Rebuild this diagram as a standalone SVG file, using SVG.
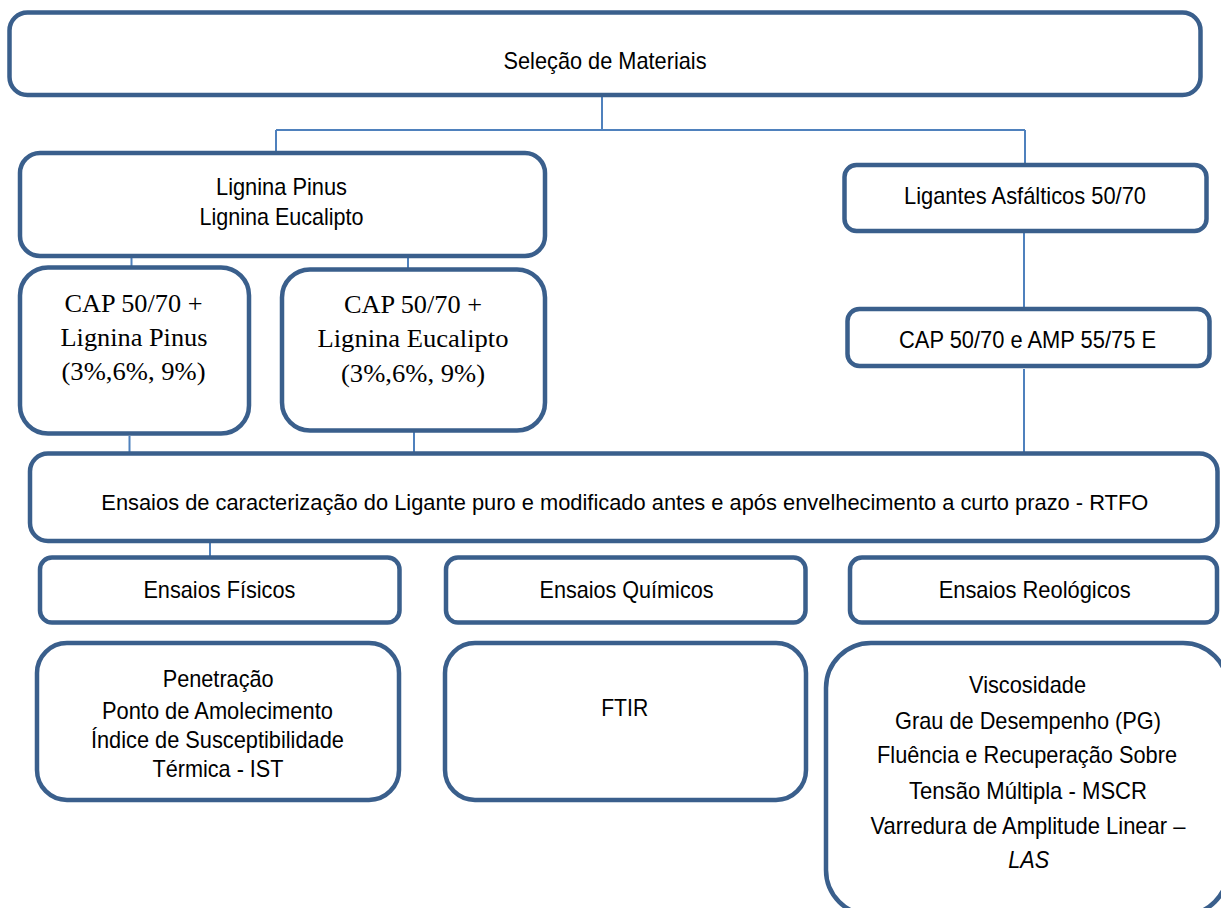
<svg xmlns="http://www.w3.org/2000/svg" width="1221" height="908" viewBox="0 0 1221 908">
  <style>
    .box { fill: #ffffff; stroke: #3a5f8c; stroke-width: 4.5; }
    .link { fill: none; stroke: #4f81bd; stroke-width: 2; }
    .sans { font-family: "Liberation Sans", Arial, sans-serif; font-size: 24px; fill: #000000; text-anchor: middle; }
    .serif { font-family: "Liberation Serif", "Times New Roman", serif; font-size: 25px; fill: #000000; text-anchor: middle; }
    .it { font-style: italic; }
    .long { font-size: 22px; }
  </style>
  <rect width="1221" height="908" fill="#ffffff"/>

  <!-- connectors -->
  <g id="connectors">
    <path class="link" d="M602 97 V130 M276 130 H1025 M276 130 V151 M1025 130 V163"/>
    <path class="link" d="M1024 233 V307"/>
    <path class="link" d="M1024 369 V452"/>
    <path class="link" d="M131.5 256 V266 M408 256 V268"/>
    <path class="link" d="M129.5 436 V452 M414 432 V452"/>
    <path class="link" d="M210 541 V556"/>
  </g>

  <g id="selecao-materiais">
    <rect class="box" x="9.5" y="12.5" width="1191" height="82.5" rx="18"/>
    <text class="sans" x="605" y="69" textLength="203" lengthAdjust="spacingAndGlyphs">Seleção de Materiais</text>
  </g>

  <g id="lignina">
    <rect class="box" x="20" y="153" width="525" height="103" rx="20"/>
    <text class="sans" x="281.5" y="195" textLength="131" lengthAdjust="spacingAndGlyphs">Lignina Pinus</text>
    <text class="sans" x="281.5" y="225" textLength="164" lengthAdjust="spacingAndGlyphs">Lignina Eucalipto</text>
  </g>

  <g id="ligantes-asfalticos">
    <rect class="box" x="844.5" y="165" width="362" height="66" rx="12"/>
    <text class="sans" x="1025" y="204" textLength="242" lengthAdjust="spacingAndGlyphs">Ligantes Asfálticos 50/70</text>
  </g>

  <g id="cap-amp">
    <rect class="box" x="847.5" y="309" width="362" height="57" rx="12"/>
    <text class="sans" x="1027.5" y="348" textLength="257" lengthAdjust="spacingAndGlyphs">CAP 50/70 e AMP 55/75 E</text>
  </g>

  <g id="cap-lignina-pinus">
    <rect class="box" x="20" y="267.5" width="229" height="166" rx="28"/>
    <text class="serif" x="133.5" y="312" textLength="138" lengthAdjust="spacingAndGlyphs">CAP 50/70 +</text>
    <text class="serif" x="134" y="346" textLength="147" lengthAdjust="spacingAndGlyphs">Lignina Pinus</text>
    <text class="serif" x="133.5" y="380" textLength="144" lengthAdjust="spacingAndGlyphs">(3%,6%, 9%)</text>
  </g>

  <g id="cap-lignina-eucalipto">
    <rect class="box" x="282" y="269.5" width="263" height="161" rx="28"/>
    <text class="serif" x="413" y="313" textLength="138" lengthAdjust="spacingAndGlyphs">CAP 50/70 +</text>
    <text class="serif" x="413" y="347" textLength="191" lengthAdjust="spacingAndGlyphs">Lignina Eucalipto</text>
    <text class="serif" x="413" y="382" textLength="144" lengthAdjust="spacingAndGlyphs">(3%,6%, 9%)</text>
  </g>

  <g id="ensaios-caracterizacao">
    <rect class="box" x="30" y="453.5" width="1187.5" height="87.5" rx="18"/>
    <text class="sans long" x="624.8" y="510" textLength="1047" lengthAdjust="spacingAndGlyphs">Ensaios de caracterização do Ligante puro e modificado antes e após envelhecimento a curto prazo - RTFO</text>
  </g>

  <g id="ensaios-fisicos">
    <rect class="box" x="40" y="557.5" width="359.5" height="65" rx="12"/>
    <text class="sans" x="219.4" y="598" textLength="152" lengthAdjust="spacingAndGlyphs">Ensaios Físicos</text>
  </g>

  <g id="ensaios-quimicos">
    <rect class="box" x="446" y="557.5" width="359.5" height="65" rx="12"/>
    <text class="sans" x="626.5" y="598" textLength="174" lengthAdjust="spacingAndGlyphs">Ensaios Químicos</text>
  </g>

  <g id="ensaios-reologicos">
    <rect class="box" x="850" y="557.5" width="367" height="65" rx="12"/>
    <text class="sans" x="1034.7" y="598" textLength="192" lengthAdjust="spacingAndGlyphs">Ensaios Reológicos</text>
  </g>

  <g id="fisicos-lista">
    <rect class="box" x="37" y="643" width="362" height="157" rx="30"/>
    <text class="sans" x="218.2" y="687" textLength="111" lengthAdjust="spacingAndGlyphs">Penetração</text>
    <text class="sans" x="217.4" y="719" textLength="231" lengthAdjust="spacingAndGlyphs">Ponto de Amolecimento</text>
    <text class="sans" x="217.4" y="748" textLength="253" lengthAdjust="spacingAndGlyphs">Índice de Susceptibilidade</text>
    <text class="sans" x="218" y="777" textLength="131" lengthAdjust="spacingAndGlyphs">Térmica - IST</text>
  </g>

  <g id="quimicos-lista">
    <rect class="box" x="445" y="643" width="361" height="157" rx="30"/>
    <text class="sans" x="624.7" y="716" textLength="47" lengthAdjust="spacingAndGlyphs">FTIR</text>
  </g>

  <g id="reologicos-lista">
    <rect class="box" x="826" y="643" width="402" height="272" rx="45"/>
    <text class="sans" x="1027.5" y="693" textLength="117" lengthAdjust="spacingAndGlyphs">Viscosidade</text>
    <text class="sans" x="1028" y="729" textLength="266" lengthAdjust="spacingAndGlyphs">Grau de Desempenho (PG)</text>
    <text class="sans" x="1027" y="763" textLength="300" lengthAdjust="spacingAndGlyphs">Fluência e Recuperação Sobre</text>
    <text class="sans" x="1028" y="799" textLength="238" lengthAdjust="spacingAndGlyphs">Tensão Múltipla - MSCR</text>
    <text class="sans" x="1028" y="834" textLength="315" lengthAdjust="spacingAndGlyphs">Varredura de Amplitude Linear –</text>
    <text class="sans it" x="1028.7" y="868" textLength="41" lengthAdjust="spacingAndGlyphs">LAS</text>
  </g>
</svg>
